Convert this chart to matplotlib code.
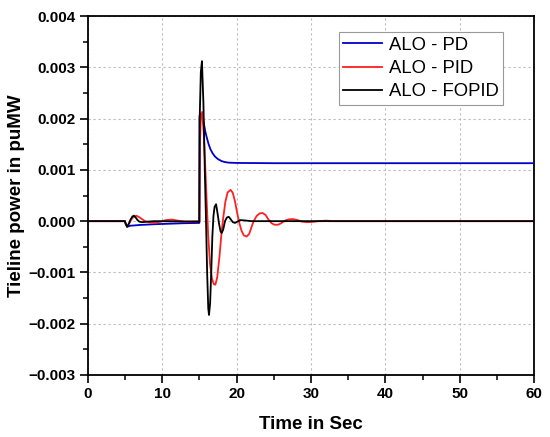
import numpy as np
import matplotlib
matplotlib.use("Agg")
import matplotlib.pyplot as plt
from matplotlib.ticker import MultipleLocator, FuncFormatter

# values in units of 1e-3 puMW
t_pd = [0, 5.0, 5.1, 5.3, 5.7, 7.0, 9.0, 11.0, 13.0, 15.0, 15.03, 15.2, 15.55, 15.8, 16.0,
        16.25, 16.5, 16.8, 17.1, 17.5, 18.0, 18.5, 19.0, 20.0, 25.0, 40.0, 60.0]
v_pd = [0, 0, -0.05, -0.11, -0.09, -0.075, -0.06, -0.05, -0.04, -0.035, 2.05, 2.1, 1.95, 1.75, 1.63,
        1.5, 1.40, 1.32, 1.26, 1.21, 1.17, 1.15, 1.14, 1.135, 1.13, 1.13, 1.13]

t_pid = [0, 5.0, 5.15, 5.3, 5.6, 5.9, 6.2, 6.55, 6.9, 7.3, 7.7, 8.3, 9.0, 9.8, 10.5, 11.3, 12.1,
         13.0, 14.0, 15.0, 15.08, 15.2, 15.38, 15.6, 15.8, 16.0, 16.2, 16.45, 16.7, 16.95, 17.15,
         17.4, 17.7, 18.0, 18.2, 18.5, 18.8, 19.2, 19.5, 19.8, 20.1, 20.4, 20.7, 21.0, 21.35, 21.7,
         22.0, 22.3, 22.7, 23.1, 23.5, 23.9, 24.3, 24.7, 25.1, 25.6, 26.0, 26.5, 27.0, 27.6, 28.2,
         28.8, 29.5, 30.2, 31.0, 32.0, 33.0, 60.0]
v_pid = [0, 0, -0.07, -0.10, -0.04, 0.04, 0.09, 0.105, 0.08, 0.04, 0.0, -0.025, -0.03, -0.01, 0.02,
         0.03, 0.01, -0.01, -0.005, 0.0, 1.5, 2.0, 2.13, 1.7, 1.05, 0.35, -0.3, -0.85, -1.12, -1.23,
         -1.24, -1.1, -0.7, -0.2, 0.05, 0.38, 0.56, 0.61, 0.55, 0.38, 0.15, -0.05, -0.2, -0.28, -0.30,
         -0.25, -0.12, 0.0, 0.1, 0.15, 0.16, 0.12, 0.03, -0.04, -0.07, -0.07, -0.04, 0.01, 0.035,
         0.04, 0.02, -0.01, -0.02, -0.015, 0.0, 0.01, 0.0, 0.0]

t_fopid = [0, 5.0, 5.1, 5.3, 5.5, 5.75, 6.0, 6.2, 6.45, 6.7, 6.95, 7.3, 8.0, 9.0, 15.0, 15.05,
           15.2, 15.35, 15.55, 15.75, 15.9, 16.05, 16.2, 16.3, 16.45, 16.6, 16.75, 16.9, 17.05,
           17.25, 17.45, 17.65, 17.85, 18.0, 18.2, 18.45, 18.7, 18.95, 19.2, 19.5, 19.8, 20.1,
           20.5, 21.0, 22.0, 60.0]
v_fopid = [0, 0, -0.05, -0.11, -0.06, 0.03, 0.09, 0.107, 0.07, 0.02, -0.01, -0.02, -0.01, 0.0,
           -0.01, 2.0, 2.9, 3.12, 2.3, 0.9, 0.0, -1.0, -1.7, -1.83, -1.6, -1.0, -0.3, 0.1, 0.28,
           0.33, 0.15, -0.05, -0.2, -0.23, -0.17, 0.0, 0.07, 0.085, 0.04, -0.02, -0.035, -0.01,
           0.02, 0.015, 0.0, 0.0]

labels = ["ALO - PD", "ALO - PID", "ALO - FOPID"]
scale = 1e-3

W, H = 550, 437
fig = plt.figure(figsize=(W / 100, H / 100), dpi=100)
ax = fig.add_axes([87.7 / W, (H - 375) / H, 446.5 / W, 359 / H])

ax.plot(t_pd, np.array(v_pd) * scale, color="#0000cc", lw=1.3, label=labels[0], zorder=3)
ax.plot(t_pid, np.array(v_pid) * scale, color="#ff2020", lw=1.3, label=labels[1], zorder=4)
ax.plot(t_fopid, np.array(v_fopid) * scale, color="black", lw=1.3, label=labels[2], zorder=5)

ax.set_xlim(0, 60)
ax.set_ylim(-0.003, 0.004)
ax.xaxis.set_major_locator(MultipleLocator(10))
ax.xaxis.set_minor_locator(MultipleLocator(5))
ax.yaxis.set_major_locator(MultipleLocator(0.001))
ax.yaxis.set_minor_locator(MultipleLocator(0.0005))
ax.yaxis.set_major_formatter(FuncFormatter(lambda v, p: ("%.3f" % v).replace("-", "\u2212")))

ax.grid(True, which="major", color="#bbbbbb", linestyle=(0, (2, 2.5)), lw=0.8)
ax.set_axisbelow(True)

for s in ax.spines.values():
    s.set_linewidth(1.3)
ax.tick_params(which="major", direction="out", length=5.5, width=1.2,
               labelsize=11, pad=3)
ax.tick_params(which="minor", direction="out", length=3.5, width=1.1)
for lab in ax.get_xticklabels() + ax.get_yticklabels():
    lab.set_fontfamily("Liberation Sans")
    lab.set_fontweight("bold")

ax.set_xlabel("Time in Sec", fontfamily="Liberation Sans", fontweight="bold",
              fontsize=13.5, labelpad=11)
ax.set_ylabel("Tieline power in puMW", fontfamily="Liberation Sans", fontweight="bold",
              fontsize=13.5, labelpad=3)

leg = ax.legend(loc="upper right", bbox_to_anchor=(0.9306, 0.9546), borderaxespad=0,
                fancybox=False, framealpha=1, edgecolor="#999999",
                prop={"family": "Liberation Sans", "size": 13.3},
                handlelength=2.1, handletextpad=0.35, borderpad=0.25, labelspacing=0.34)
leg.get_frame().set_linewidth(0.8)

fig.savefig("out.png", dpi=100)
